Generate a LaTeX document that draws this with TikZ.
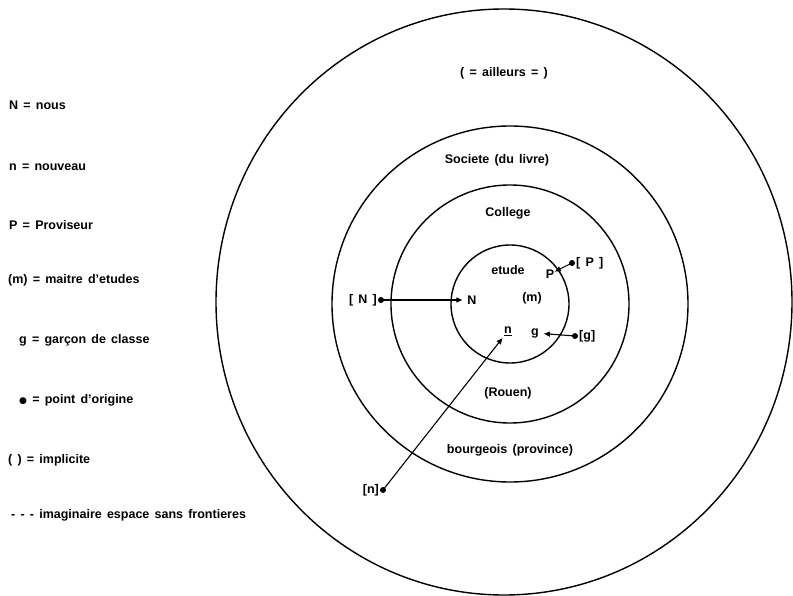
\documentclass[tikz,border=0pt]{standalone}
\usepackage{fontspec}
\setmainfont{Liberation Sans}[WordSpace=1.5]
\newfontfamily\symfont{DejaVu Sans}
\usetikzlibrary{arrows.meta}

\tikzset{
  lbl/.style={font=\fontsize{12.5}{14}\selectfont\bfseries, inner sep=1pt},
  ring/.style={line width=1.4pt},
  link/.style={line width=1.1pt, -{Triangle[length=6pt,width=5pt]}},
}

\begin{document}
\begin{tikzpicture}[x=1pt,y=-1pt]
\useasboundingbox (0,0) rectangle (793,596);

% les cercles
\coordinate (c) at (510,304);
\foreach \r in {59,119,178}
    \draw [ring] (c) circle (\r pt);

\draw [ring] (504,302) ellipse [x radius=288pt, y radius=293pt];

% noms des espaces
\node [lbl] (ailleurs) at (504,73)  {( = ailleurs = )};
\node [lbl] (societe)  at (497,160) {Societe (du livre)};
\node [lbl] (college)  at (508,213) {College};
\node [lbl] (etude)    at (508,270) {etude};
\node [lbl] (m)        at (532,298) {(m)};
\node [lbl] (rouen)    at (508,393) {(Rouen)};
\node [lbl] (province) at (510,450) {bourgeois (province)};

% personnages
\node [lbl] (N) at (472,300) {N};
\node [lbl, inner sep=0.5pt] (P) at (550,274) {P};
\node [lbl] (g) at (535,333) {g};
\node [lbl] (n) at (508,331) {\underline{n}};

% points d'origine
\coordinate (oN) at (381,300);
\coordinate (oP) at (572,263);
\coordinate (og) at (575,336);
\coordinate (on) at (383,490);

\foreach \i in {oN,oP,og,on}
    \fill (\i) circle (3pt);

\node [lbl, left=3pt]  (bN) at (oN) {[ N ]};
\node [lbl, right=3pt] (bP) at (oP) {[ P ]};
\node [lbl, right=3pt] (bg) at (og) {[g]};
\node [lbl, left=3pt]  (bn) at (on) {[n]};

\draw [link, shorten >=4pt] (oN) -- (N);
\draw [link] (oP) -- (P);
\draw [link, shorten >=4pt] (og) -- (g);
\draw [link, shorten >=2pt] (on) -- (n);

% legende
\foreach \x/\y/\t [count=\k] in {8/105/{N = nous}, 8/167/{n = nouveau},
    8/225/{P = Proviseur}, 7/280/{(m) = maitre d'etudes},
    18/340/{g = garçon de classe}, 18/400/{{\symfont\small ●} = point d'origine},
    7/460/{( ) = implicite}, 10/515/{- - - imaginaire espace sans frontieres}}
    \node [lbl, anchor=west] (leg\k) at (\x,\y) {\t};

\end{tikzpicture}
\end{document}
